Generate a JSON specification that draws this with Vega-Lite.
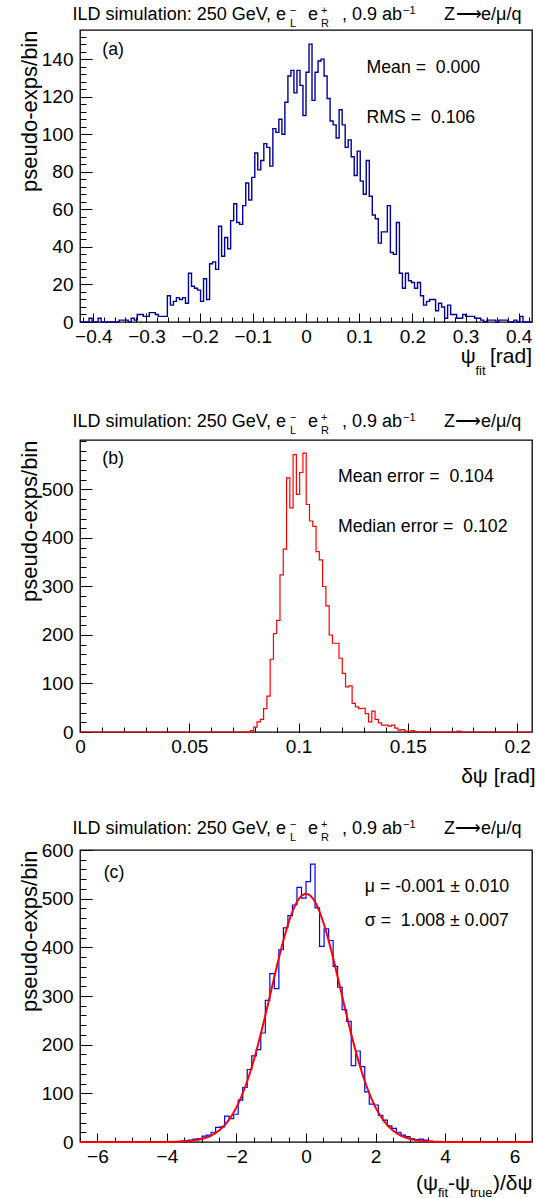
{
"$schema": "https://vega.github.io/schema/vega-lite/v6.json",
"background": "white",
"padding": {"left": 17, "top": 4, "right": 0, "bottom": 0},
"bounds": "flush",
"spacing": 118,
"config": {
  "font": "Liberation Sans",
  "view": {"stroke": "#000", "strokeWidth": 1.3},
  "axis": {"grid": false, "domain": false, "tickColor": "#000", "tickWidth": 1, "labelColor": "#000", "labelFont": "Liberation Sans", "labelFontSize": 19, "titleFont": "Liberation Sans", "titleFontSize": 22, "titleFontWeight": "normal", "titleColor": "#000", "labelFlush": false, "labelOverlap": false},
  "text": {"font": "Liberation Sans", "color": "#000"}
},
"vconcat": [
{
  "width": 452, "height": 292,
  "resolve": {"axis": {"x": "independent", "y": "independent"}},
  "layer": [
    {
      "data": {"values": [
        {"x":-0.425,"n":0},{"x":-0.4193,"n":0},{"x":-0.4137,"n":0},{"x":-0.408,"n":2},{"x":-0.4023,"n":0},{"x":-0.3967,"n":0},{"x":-0.391,"n":2},{"x":-0.3853,"n":0},{"x":-0.3797,"n":0},{"x":-0.374,"n":0},
        {"x":-0.3683,"n":0},{"x":-0.3627,"n":0},{"x":-0.357,"n":0},{"x":-0.3513,"n":1},{"x":-0.3457,"n":1},{"x":-0.34,"n":1},{"x":-0.3343,"n":0},{"x":-0.3287,"n":2},{"x":-0.323,"n":1},{"x":-0.3173,"n":4},
        {"x":-0.3117,"n":4},{"x":-0.306,"n":3},{"x":-0.3003,"n":3},{"x":-0.2947,"n":5},{"x":-0.289,"n":5},{"x":-0.2833,"n":4},{"x":-0.2777,"n":3},{"x":-0.272,"n":3},{"x":-0.2663,"n":3},{"x":-0.2607,"n":14},
        {"x":-0.255,"n":9},{"x":-0.2493,"n":11},{"x":-0.2437,"n":13},{"x":-0.238,"n":12},{"x":-0.2323,"n":13},{"x":-0.2267,"n":10},{"x":-0.221,"n":26},{"x":-0.2153,"n":19},{"x":-0.2097,"n":18},{"x":-0.204,"n":17},
        {"x":-0.1983,"n":11},{"x":-0.1927,"n":23},{"x":-0.187,"n":12},{"x":-0.1813,"n":31},{"x":-0.1757,"n":32},{"x":-0.17,"n":28},{"x":-0.1643,"n":51},{"x":-0.1587,"n":35},{"x":-0.153,"n":45},{"x":-0.1473,"n":39},
        {"x":-0.1417,"n":54},{"x":-0.136,"n":63},{"x":-0.1303,"n":53},{"x":-0.1247,"n":52},{"x":-0.119,"n":62},{"x":-0.1133,"n":74},{"x":-0.1077,"n":65},{"x":-0.102,"n":77},{"x":-0.0963,"n":90},{"x":-0.0907,"n":81},
        {"x":-0.085,"n":86},{"x":-0.0793,"n":95},{"x":-0.0737,"n":93},{"x":-0.068,"n":83},{"x":-0.0623,"n":103},{"x":-0.0567,"n":101},{"x":-0.051,"n":108},{"x":-0.0453,"n":100},{"x":-0.0397,"n":117},{"x":-0.034,"n":131},
        {"x":-0.0283,"n":134},{"x":-0.0227,"n":122},{"x":-0.017,"n":134},{"x":-0.0113,"n":126},{"x":-0.0057,"n":110},{"x":0,"n":133},{"x":0.0057,"n":148},{"x":0.0113,"n":118},{"x":0.017,"n":133},{"x":0.0227,"n":139},
        {"x":0.0283,"n":140},{"x":0.034,"n":131},{"x":0.0397,"n":119},{"x":0.0453,"n":107},{"x":0.051,"n":105},{"x":0.0567,"n":98},{"x":0.0623,"n":113},{"x":0.068,"n":105},{"x":0.0737,"n":93},{"x":0.0793,"n":97},
        {"x":0.085,"n":88},{"x":0.0907,"n":78},{"x":0.0963,"n":91},{"x":0.102,"n":75},{"x":0.1077,"n":68},{"x":0.1133,"n":86},{"x":0.119,"n":67},{"x":0.1247,"n":57},{"x":0.1303,"n":55},{"x":0.136,"n":42},
        {"x":0.1417,"n":48},{"x":0.1473,"n":48},{"x":0.153,"n":62},{"x":0.1587,"n":37},{"x":0.1643,"n":36},{"x":0.17,"n":53},{"x":0.1757,"n":26},{"x":0.1813,"n":18},{"x":0.187,"n":26},{"x":0.1927,"n":22},
        {"x":0.1983,"n":21},{"x":0.204,"n":18},{"x":0.2097,"n":21},{"x":0.2153,"n":14},{"x":0.221,"n":9},{"x":0.2267,"n":11},{"x":0.2323,"n":12},{"x":0.238,"n":12},{"x":0.2437,"n":6},{"x":0.2493,"n":10},
        {"x":0.255,"n":8},{"x":0.2607,"n":2},{"x":0.2663,"n":9},{"x":0.272,"n":4},{"x":0.2777,"n":4},{"x":0.2833,"n":2},{"x":0.289,"n":2},{"x":0.2947,"n":4},{"x":0.3003,"n":3},{"x":0.306,"n":3},
        {"x":0.3117,"n":3},{"x":0.3173,"n":2},{"x":0.323,"n":2},{"x":0.3287,"n":1},{"x":0.3343,"n":0},{"x":0.34,"n":1},{"x":0.3457,"n":1},{"x":0.3513,"n":1},{"x":0.357,"n":0},{"x":0.3627,"n":1},
        {"x":0.3683,"n":1},{"x":0.374,"n":1},{"x":0.3797,"n":0},{"x":0.3853,"n":0},{"x":0.391,"n":1},{"x":0.3967,"n":0},{"x":0.4023,"n":3},{"x":0.408,"n":0},{"x":0.4137,"n":0},{"x":0.4193,"n":0},
        {"x":0.425,"n":0}
      ]},
      "mark": {"type": "line", "interpolate": "step-after", "color": "#000099", "strokeWidth": 1.4},
      "encoding": {
        "x": {"field": "x", "type": "quantitative", "scale": {"domain": [-0.425, 0.425], "nice": false, "zero": false},
              "axis": {"orient": "bottom", "values": [-0.4,-0.3,-0.2,-0.1,0,0.1,0.2,0.3,0.4], "format": "~g", "tickSize": -9, "labelPadding": 14, "title": null}},
        "y": {"field": "n", "type": "quantitative", "scale": {"domain": [0, 155.5], "nice": false, "zero": false},
              "axis": {"orient": "left", "values": [0,20,40,60,80,100,120,140], "tickSize": -12, "labelPadding": 19, "title": "pseudo-exps/bin", "titleAnchor": "end", "titlePadding": 0}}
      }
    },
    {
      "mark": {"type": "rule", "color": "#ff00ff", "strokeWidth": 1.2},
      "encoding": {"x": {"datum": 0, "type": "quantitative", "axis": null}}
    },
    {
      "data": {"values": [
        {"t":"ILD simulation: 250 GeV, e","x":-0.4389,"y":160.7,"k":"h"},
        {"t":"−","x":-0.0301,"y":164.2,"k":"hs"},
        {"t":"L","x":-0.0301,"y":157.3,"k":"hs"},
        {"t":"e","x":0.0038,"y":160.7,"k":"h"},
        {"t":"+","x":0.0282,"y":164.2,"k":"hs"},
        {"t":"R","x":0.0282,"y":157.3,"k":"hs"},
        {"t":", 0.9 ab","x":0.0677,"y":160.7,"k":"h"},
        {"t":"−1","x":0.1824,"y":164.2,"k":"hs"},
        {"t":"Z","x":0.2595,"y":160.7,"k":"h"},
        {"t":"⟶","x":0.2821,"y":160.7,"k":"h"},
        {"t":"e/μ/q","x":0.3291,"y":160.7,"k":"h"},
        {"t":"(a)","x":-0.383,"y":142.1,"k":"n"},
        {"t":"Mean = \u00a00.000","x":0.1138,"y":132.7,"k":"n"},
        {"t":"RMS = \u00a00.106","x":0.1138,"y":106.2,"k":"n"},
        {"t":"ψ","x":0.2909,"y":-21.9,"k":"a"},
        {"t":"fit","x":0.3186,"y":-28.4,"k":"as"},
        {"t":"[rad]","x":0.346,"y":-21.9,"k":"a"}
      ]},
      "mark": {"type": "text", "align": "left", "baseline": "alphabetic", "color": "#000"},
      "encoding": {
        "x": {"field": "x", "type": "quantitative", "scale": {"domain": [-0.425, 0.425], "nice": false, "zero": false},
              "axis": {"orient": "bottom", "values": [-0.42,-0.4,-0.38,-0.36,-0.34,-0.32,-0.3,-0.28,-0.26,-0.24,-0.22,-0.2,-0.18,-0.16,-0.14,-0.12,-0.1,-0.08,-0.06,-0.04,-0.02,0,0.02,0.04,0.06,0.08,0.1,0.12,0.14,0.16,0.18,0.2,0.22,0.24,0.26,0.28,0.3,0.32,0.34,0.36,0.38,0.4,0.42], "labels": false, "tickSize": -5, "title": null}},
        "y": {"field": "y", "type": "quantitative", "scale": {"domain": [0, 155.5], "nice": false, "zero": false},
              "axis": {"orient": "left", "values": [0,4,8,12,16,20,24,28,32,36,40,44,48,52,56,60,64,68,72,76,80,84,88,92,96,100,104,108,112,116,120,124,128,132,136,140,144,148,152], "labels": false, "tickSize": -6, "title": null}},
        "text": {"field": "t"},
        "size": {"field": "k", "type": "nominal", "scale": {"type": "ordinal", "domain": ["h","hs","n","a","as"], "range": [18,11,17.7,21,13]}, "legend": null}
      }
    }
  ]
},
{
  "width": 452, "height": 292,
  "resolve": {"axis": {"x": "independent", "y": "independent"}},
  "layer": [
    {
      "data": {"values": [
        {"x":0,"n":0},{"x":0.0765,"n":0},{"x":0.078,"n":3},{"x":0.0795,"n":10},{"x":0.081,"n":21},{"x":0.0825,"n":26},{"x":0.084,"n":48},{"x":0.0855,"n":74},{"x":0.087,"n":150},{"x":0.0885,"n":203},
        {"x":0.09,"n":230},{"x":0.0915,"n":324},{"x":0.093,"n":377},{"x":0.0945,"n":524},{"x":0.096,"n":462},{"x":0.0975,"n":572},{"x":0.099,"n":490},{"x":0.1005,"n":535},{"x":0.102,"n":575},{"x":0.1035,"n":469},
        {"x":0.105,"n":435},{"x":0.1065,"n":424},{"x":0.108,"n":372},{"x":0.1095,"n":355},{"x":0.111,"n":300},{"x":0.1125,"n":260},{"x":0.114,"n":200},{"x":0.1155,"n":183},{"x":0.117,"n":183},{"x":0.1185,"n":152},
        {"x":0.12,"n":121},{"x":0.1215,"n":93},{"x":0.123,"n":95},{"x":0.1245,"n":59},{"x":0.126,"n":52},{"x":0.1275,"n":48},{"x":0.129,"n":49},{"x":0.1305,"n":38},{"x":0.132,"n":21},{"x":0.1335,"n":43},
        {"x":0.135,"n":26},{"x":0.1365,"n":19},{"x":0.138,"n":14},{"x":0.1395,"n":14},{"x":0.141,"n":12},{"x":0.1425,"n":14},{"x":0.144,"n":8},{"x":0.1455,"n":4},{"x":0.147,"n":5},{"x":0.1485,"n":2},
        {"x":0.15,"n":1},{"x":0.1515,"n":3},{"x":0.153,"n":1},{"x":0.1545,"n":0},{"x":0.156,"n":1},{"x":0.1575,"n":0},{"x":0.159,"n":1},{"x":0.1605,"n":0},{"x":0.1725,"n":2},{"x":0.174,"n":0},
        {"x":0.2068,"n":0}
      ]},
      "mark": {"type": "line", "interpolate": "step-after", "color": "#ff0000", "strokeWidth": 1.2},
      "encoding": {
        "x": {"field": "x", "type": "quantitative", "scale": {"domain": [0, 0.2068], "nice": false, "zero": false},
              "axis": {"orient": "bottom", "values": [0,0.05,0.1,0.15,0.2], "format": "~g", "tickSize": -9, "labelPadding": 14, "title": null}},
        "y": {"field": "n", "type": "quantitative", "scale": {"domain": [0, 602], "nice": false, "zero": false},
              "axis": {"orient": "left", "values": [0,100,200,300,400,500], "tickSize": -12, "labelPadding": 19, "title": "pseudo-exps/bin", "titleAnchor": "end", "titlePadding": 0}}
      }
    },
    {
      "data": {"values": [
        {"t":"ILD simulation: 250 GeV, e","x":-0.00339,"y":627.8,"k":"h"},
        {"t":"−","x":0.09607,"y":641.2,"k":"hs"},
        {"t":"L","x":0.09607,"y":614.3,"k":"hs"},
        {"t":"e","x":0.1043,"y":627.8,"k":"h"},
        {"t":"+","x":0.11025,"y":641.2,"k":"hs"},
        {"t":"R","x":0.11025,"y":614.3,"k":"hs"},
        {"t":", 0.9 ab","x":0.11985,"y":627.8,"k":"h"},
        {"t":"−1","x":0.14776,"y":641.2,"k":"hs"},
        {"t":"Z","x":0.16651,"y":627.8,"k":"h"},
        {"t":"⟶","x":0.17155,"y":627.8,"k":"h"},
        {"t":"e/μ/q","x":0.18344,"y":627.8,"k":"h"},
        {"t":"(b)","x":0.0102,"y":551.8,"k":"n"},
        {"t":"Mean error = \u00a00.104","x":0.118,"y":516.0,"k":"n"},
        {"t":"Median error = \u00a00.102","x":0.118,"y":412.6,"k":"n"},
        {"t":"δψ [rad]","x":0.1744,"y":-105.1,"k":"a"}
      ]},
      "mark": {"type": "text", "align": "left", "baseline": "alphabetic", "color": "#000"},
      "encoding": {
        "x": {"field": "x", "type": "quantitative", "scale": {"domain": [0, 0.2068], "nice": false, "zero": false},
              "axis": {"orient": "bottom", "values": [0,0.01,0.02,0.03,0.04,0.05,0.06,0.07,0.08,0.09,0.1,0.11,0.12,0.13,0.14,0.15,0.16,0.17,0.18,0.19,0.2], "labels": false, "tickSize": -5, "title": null}},
        "y": {"field": "y", "type": "quantitative", "scale": {"domain": [0, 602], "nice": false, "zero": false},
              "axis": {"orient": "left", "values": [0,20,40,60,80,100,120,140,160,180,200,220,240,260,280,300,320,340,360,380,400,420,440,460,480,500,520,540,560,580,600], "labels": false, "tickSize": -6, "title": null}},
        "text": {"field": "t"},
        "size": {"field": "k", "type": "nominal", "scale": {"type": "ordinal", "domain": ["h","hs","n","a","as"], "range": [18,11,17.7,21,13]}, "legend": null}
      }
    }
  ]
},
{
  "width": 452, "height": 292,
  "resolve": {"axis": {"x": "independent", "y": "independent"}},
  "layer": [
    {
      "data": {"values": [
        {"x":-6.5,"n":0},{"x":-4.16,"n":0},{"x":-4.03,"n":0},{"x":-3.9,"n":1},{"x":-3.77,"n":1},{"x":-3.64,"n":2},{"x":-3.51,"n":3},{"x":-3.38,"n":4},{"x":-3.25,"n":6},{"x":-3.12,"n":7},
        {"x":-2.99,"n":12},{"x":-2.86,"n":14},{"x":-2.73,"n":20},{"x":-2.6,"n":30},{"x":-2.47,"n":31},{"x":-2.34,"n":53},{"x":-2.21,"n":48},{"x":-2.08,"n":57},{"x":-1.95,"n":86},{"x":-1.82,"n":112},
        {"x":-1.69,"n":149},{"x":-1.56,"n":177},{"x":-1.43,"n":190},{"x":-1.3,"n":224},{"x":-1.17,"n":291},{"x":-1.04,"n":346},{"x":-0.91,"n":315},{"x":-0.78,"n":395},{"x":-0.65,"n":440},{"x":-0.52,"n":465},
        {"x":-0.39,"n":487},{"x":-0.26,"n":523},{"x":-0.13,"n":501},{"x":0,"n":535},{"x":0.13,"n":571},{"x":0.26,"n":481},{"x":0.39,"n":402},{"x":0.52,"n":438},{"x":0.65,"n":414},{"x":0.78,"n":361},
        {"x":0.91,"n":318},{"x":1.04,"n":272},{"x":1.17,"n":248},{"x":1.3,"n":157},{"x":1.43,"n":187},{"x":1.56,"n":155},{"x":1.69,"n":103},{"x":1.82,"n":78},{"x":1.95,"n":76},{"x":2.08,"n":55},
        {"x":2.21,"n":45},{"x":2.34,"n":33},{"x":2.47,"n":28},{"x":2.6,"n":20},{"x":2.73,"n":14},{"x":2.86,"n":11},{"x":2.99,"n":7},{"x":3.12,"n":5},{"x":3.25,"n":6},{"x":3.38,"n":4},
        {"x":3.51,"n":2},{"x":3.64,"n":1},{"x":3.77,"n":1},{"x":3.9,"n":0},{"x":6.5,"n":0}
      ]},
      "mark": {"type": "line", "interpolate": "step-after", "color": "#0000ff", "strokeWidth": 1.2},
      "encoding": {
        "x": {"field": "x", "type": "quantitative", "scale": {"domain": [-6.5, 6.5], "nice": false, "zero": false},
              "axis": {"orient": "bottom", "values": [-6,-4,-2,0,2,4,6], "format": "~g", "tickSize": -9, "labelPadding": 14, "title": null}},
        "y": {"field": "n", "type": "quantitative", "scale": {"domain": [0, 600], "nice": false, "zero": false},
              "axis": {"orient": "left", "values": [0,100,200,300,400,500,600], "tickSize": -12, "labelPadding": 19, "title": "pseudo-exps/bin", "titleAnchor": "end", "titlePadding": 0}}
      }
    },
    {
      "data": {"values": [
        {"x":-6.5,"f":0},{"x":-4.5,"f":0},{"x":-4,"f":0.2},{"x":-3.75,"f":0.5},{"x":-3.5,"f":1.2},{"x":-3.25,"f":2.8},{"x":-3,"f":6.1},{"x":-2.75,"f":12.3},{"x":-2.5,"f":23.5},{"x":-2.25,"f":42.2},
        {"x":-2,"f":71.2},{"x":-1.75,"f":113},{"x":-1.5,"f":168.6},{"x":-1.25,"f":236.4},{"x":-1,"f":311.8},{"x":-0.75,"f":386.7},{"x":-0.5,"f":451},{"x":-0.25,"f":494.6},{"x":0,"f":510},
        {"x":0.25,"f":494.6},{"x":0.5,"f":451},{"x":0.75,"f":386.7},{"x":1,"f":311.8},{"x":1.25,"f":236.4},{"x":1.5,"f":168.6},{"x":1.75,"f":113},{"x":2,"f":71.2},{"x":2.25,"f":42.2},{"x":2.5,"f":23.5},
        {"x":2.75,"f":12.3},{"x":3,"f":6.1},{"x":3.25,"f":2.8},{"x":3.5,"f":1.2},{"x":3.75,"f":0.5},{"x":4,"f":0.2},{"x":4.5,"f":0},{"x":6.5,"f":0}
      ]},
      "mark": {"type": "line", "interpolate": "monotone", "color": "#ff0000", "strokeWidth": 2},
      "encoding": {
        "x": {"field": "x", "type": "quantitative", "scale": {"domain": [-6.5, 6.5], "nice": false, "zero": false}, "axis": null},
        "y": {"field": "f", "type": "quantitative", "scale": {"domain": [0, 600], "nice": false, "zero": false}, "axis": null}
      }
    },
    {
      "data": {"values": [
        {"t":"ILD simulation: 250 GeV, e","x":-6.713,"y":633.1,"k":"h"},
        {"t":"−","x":-0.46,"y":646.2,"k":"hs"},
        {"t":"L","x":-0.46,"y":619.5,"k":"hs"},
        {"t":"e","x":0.0575,"y":633.1,"k":"h"},
        {"t":"+","x":0.431,"y":646.2,"k":"hs"},
        {"t":"R","x":0.431,"y":619.5,"k":"hs"},
        {"t":", 0.9 ab","x":1.035,"y":633.1,"k":"h"},
        {"t":"−1","x":2.79,"y":646.2,"k":"hs"},
        {"t":"Z","x":3.969,"y":633.1,"k":"h"},
        {"t":"⟶","x":4.286,"y":633.1,"k":"h"},
        {"t":"e/μ/q","x":5.033,"y":633.1,"k":"h"},
        {"t":"(c)","x":-5.82,"y":543.2,"k":"n"},
        {"t":"μ = -0.001 ± 0.010","x":1.691,"y":513,"k":"n"},
        {"t":"σ = \u00a01.008 ± 0.007","x":1.691,"y":444.7,"k":"n"},
        {"t":"(ψ","x":3.164,"y":-99.1,"k":"a"},
        {"t":"fit","x":3.796,"y":-113.5,"k":"as"},
        {"t":"-ψ","x":4.084,"y":-99.1,"k":"a"},
        {"t":"true","x":4.717,"y":-113.5,"k":"as"},
        {"t":")/δψ","x":5.378,"y":-99.1,"k":"a"}
      ]},
      "mark": {"type": "text", "align": "left", "baseline": "alphabetic", "color": "#000"},
      "encoding": {
        "x": {"field": "x", "type": "quantitative", "scale": {"domain": [-6.5, 6.5], "nice": false, "zero": false},
              "axis": {"orient": "bottom", "values": [-6.5,-6,-5.5,-5,-4.5,-4,-3.5,-3,-2.5,-2,-1.5,-1,-0.5,0,0.5,1,1.5,2,2.5,3,3.5,4,4.5,5,5.5,6,6.5], "labels": false, "tickSize": -5, "title": null}},
        "y": {"field": "y", "type": "quantitative", "scale": {"domain": [0, 600], "nice": false, "zero": false},
              "axis": {"orient": "left", "values": [0,20,40,60,80,100,120,140,160,180,200,220,240,260,280,300,320,340,360,380,400,420,440,460,480,500,520,540,560,580,600], "labels": false, "tickSize": -6, "title": null}},
        "text": {"field": "t"},
        "size": {"field": "k", "type": "nominal", "scale": {"type": "ordinal", "domain": ["h","hs","n","a","as"], "range": [18,11,17.7,21,13]}, "legend": null}
      }
    }
  ]
}
]
}
